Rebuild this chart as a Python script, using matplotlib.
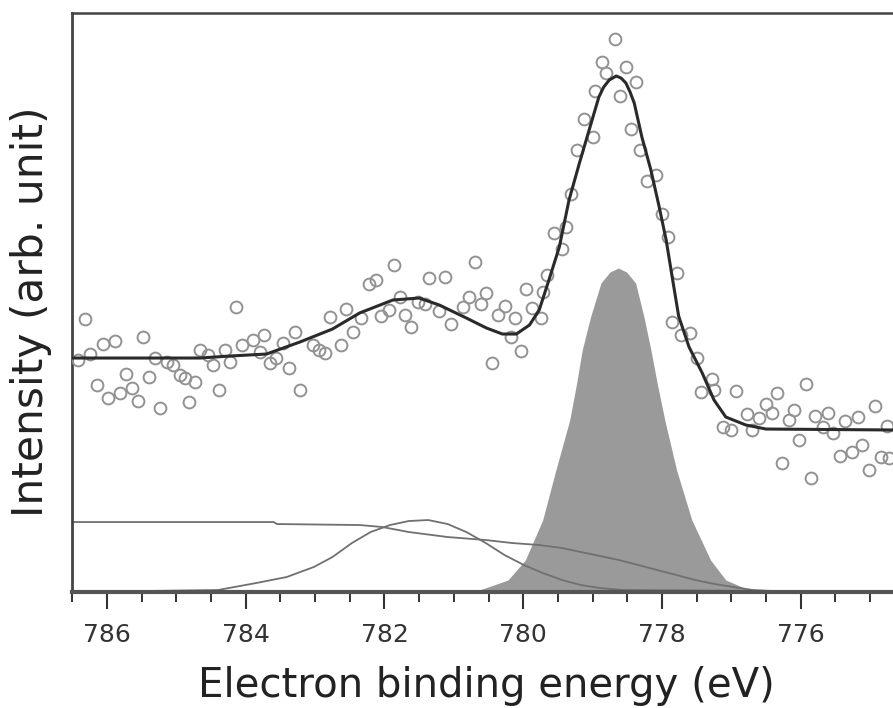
import matplotlib
matplotlib.use("Agg")
import matplotlib.pyplot as plt
from matplotlib.ticker import MultipleLocator, FormatStrFormatter

# measured points (binding energy in eV, intensity in arb. units)
data_energy = [786.42, 786.32, 786.24, 786.14, 786.06, 785.98, 785.89, 785.81, 785.73, 785.64,
               785.56, 785.48, 785.39, 785.31, 785.24, 785.14, 785.05, 784.95, 784.88, 784.82,
               784.73, 784.66, 784.54, 784.47, 784.38, 784.30, 784.22, 784.14, 784.05, 783.90,
               783.80, 783.73, 783.65, 783.56, 783.47, 783.38, 783.29, 783.22, 783.03, 782.94,
               782.86, 782.79, 782.63, 782.55, 782.46, 782.34, 782.23, 782.12, 782.05, 781.93,
               781.87, 781.78, 781.71, 781.62, 781.52, 781.42, 781.36, 781.21, 781.13, 781.04,
               780.87, 780.78, 780.69, 780.61, 780.53, 780.45, 780.37, 780.27, 780.18, 780.12,
               780.03, 779.96, 779.88, 779.75, 779.72, 779.66, 779.55, 779.44, 779.39, 779.31,
               779.22, 779.12, 779.00, 778.96, 778.87, 778.80, 778.68, 778.61, 778.52, 778.45,
               778.37, 778.31, 778.21, 778.08, 778.00, 777.92, 777.86, 777.78, 777.73, 777.59,
               777.50, 777.44, 777.28, 777.25, 777.12, 777.01, 776.93, 776.77, 776.70, 776.60,
               776.50, 776.41, 776.34, 776.27, 776.17, 776.10, 776.02, 775.93, 775.85, 775.79,
               775.68, 775.60, 775.53, 775.43, 775.36, 775.26, 775.18, 775.11, 775.01, 774.93,
               774.85, 774.76, 774.73]
data_counts = [232, 273, 238, 207, 248, 194, 251, 199, 218, 204,
               191, 255, 215, 234, 184, 230, 227, 217, 214, 190,
               210, 242, 237, 227, 202, 242, 230, 285, 247, 252,
               240, 257, 229, 234, 249, 224, 260, 202, 247, 242,
               239, 275, 247, 283, 260, 274, 308, 312, 276, 282,
               327, 295, 277, 265, 290, 288, 314, 281, 315, 268,
               285, 295, 330, 288, 299, 229, 277, 286, 255, 274,
               241, 303, 284, 274, 300, 317, 359, 343, 365, 398,
               442, 473, 455, 501, 530, 519, 553, 496, 525, 463,
               510, 442, 411, 417, 378, 355, 270, 319, 257, 259,
               234, 200, 213, 202, 165, 162, 201, 178, 162, 174,
               188, 179, 199, 129, 172, 182, 152, 208, 114, 176,
               165, 179, 159, 136, 171, 140, 175, 147, 122, 186,
               135, 166, 134]

# total fit envelope
fit_energy = [786.50, 784.66, 784.23, 783.70, 783.22, 782.75, 782.36, 781.88, 781.50, 781.21,
              780.82, 780.53, 780.30, 780.10, 779.91, 779.77, 779.63, 779.48, 779.34, 779.19,
              779.05, 778.91, 778.84, 778.76, 778.66, 778.59, 778.52, 778.46, 778.40, 778.29,
              778.16, 778.04, 777.94, 777.86, 777.76, 777.61, 777.42, 777.25, 777.08, 776.79,
              776.50, 774.60]
fit_counts = [234, 234, 236, 238, 250, 263, 279, 292, 294, 287,
              274, 264, 258, 258, 267, 282, 312, 345, 392, 429,
              462, 495, 505, 512, 516, 514, 509, 500, 489, 455,
              422, 385, 352, 318, 276, 245, 219, 192, 175, 167,
              163, 162]

# main component (shaded)
main_energy = [780.73, 780.55, 780.22, 779.97, 779.72, 779.53, 779.33, 779.23, 779.15, 779.03,
               778.88, 778.75, 778.63, 778.51, 778.38, 778.26, 778.16, 778.07, 777.96, 777.79,
               777.57, 777.30, 777.08, 776.81, 776.53]
main_counts = [0, 4, 12, 32, 72, 122, 172, 209, 242, 275,
               309, 320, 324, 320, 309, 275, 242, 209, 172, 122,
               72, 32, 12, 4, 0]

# second component
sat_energy = [786.50, 784.40, 783.85, 783.41, 783.02, 782.75, 782.47, 782.20, 781.92, 781.65,
              781.37, 781.09, 780.82, 780.54, 780.27, 779.99, 779.72, 779.44, 779.17, 778.89,
              778.56, 774.60]
sat_counts = [0, 2, 9, 15, 25, 35, 49, 60, 67, 71,
              72, 68, 60, 49, 37, 27, 19, 12, 7, 4,
              2, 0]

# background
bg_energy = [786.50, 783.60, 783.55, 782.36, 782.03, 781.65, 781.09, 780.54, 780.16, 779.77,
             779.44, 779.17, 778.89, 778.62, 778.34, 778.07, 777.79, 777.52, 777.24, 776.97,
             776.69, 776.41, 774.60]
bg_counts = [70, 70, 68, 67, 65, 60, 55, 52, 49, 47,
             44, 40, 36, 32, 27, 22, 17, 12, 8, 5,
             2, 1, 0]

fig = plt.figure(figsize=(8.93, 7.08), dpi=100)
ax = fig.add_axes([0.0806, 0.1638, 0.9194, 0.8178])

ax.fill_between(main_energy, main_counts, 0, color='#9a9a9a', lw=0, zorder=1)
ax.plot(sat_energy, sat_counts, color='#707070', lw=1.3, zorder=2)
ax.plot(bg_energy, bg_counts, color='#707070', lw=1.3, zorder=2)
ax.plot(data_energy, data_counts, 'o', ms=8.5, mfc='none', mec='#929292', mew=1.4, zorder=3)
ax.plot(fit_energy, fit_counts, color='#2a2a2a', lw=2.2, solid_joinstyle='round', zorder=4)

ax.set_xlim(786.505, 774.67)
ax.set_ylim(0, 579)
ax.set_yticks([])

ax.xaxis.set_major_locator(MultipleLocator(2))
ax.xaxis.set_minor_locator(MultipleLocator(0.5))
ax.xaxis.set_major_formatter(FormatStrFormatter('%d'))
ax.tick_params(axis='x', which='major', direction='out', length=12, width=1.5,
               color='#333333', labelsize=18, labelcolor='#333333', pad=10)
ax.tick_params(axis='x', which='minor', direction='out', length=7, width=1.4, color='#333333')

ax.spines['right'].set_visible(False)
ax.spines['top'].set_linewidth(1.8)
ax.spines['top'].set_color('#444444')
ax.spines['left'].set_linewidth(2.0)
ax.spines['left'].set_color('#444444')
ax.spines['bottom'].set_linewidth(3.0)
ax.spines['bottom'].set_color('#555555')

fig.text(0.545, 0.031, 'Electron binding energy (eV)', fontsize=29, color='#222222',
         ha='center', va='center')
fig.text(0.035, 0.559, 'Intensity (arb. unit)', fontsize=30.5, color='#222222',
         ha='center', va='center', rotation=90)

fig.savefig('out.png', dpi=100)
